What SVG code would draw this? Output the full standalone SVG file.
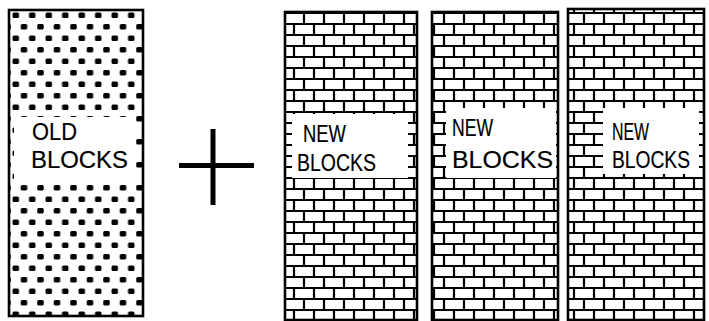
<svg xmlns="http://www.w3.org/2000/svg" width="709" height="321" viewBox="0 0 709 321">
<defs>
<pattern id="dots" patternUnits="userSpaceOnUse" width="16.5" height="23" x="10" y="10">
<rect width="16.5" height="23" fill="#fff"/>
<rect x="2.5" y="2.5" width="6.5" height="5.5" rx="1.5" fill="#000"/>
<rect x="10.75" y="14" width="6.5" height="5.5" rx="1.5" fill="#000"/>
<rect x="-5.75" y="14" width="6.5" height="5.5" rx="1.5" fill="#000"/>
</pattern>
<pattern id="bricks" patternUnits="userSpaceOnUse" width="20" height="22" x="0" y="12">
<rect width="20" height="22" fill="#fff"/>
<g stroke="#000" stroke-width="2.2" fill="none">
<path d="M0 1H20M0 12H20"/>
<path d="M4 1V12M14 12V22"/>
</g>
</pattern>
<style>
.frame{stroke:#000;stroke-width:2.6}
.lbl{fill:#fff}
.t{font-family:"Liberation Sans",Arial,sans-serif;font-size:24px;fill:#000;stroke:#000;stroke-width:0.2}
</style>
</defs>
<rect width="709" height="321" fill="#fff"/>

<g id="old-blocks">
<rect class="frame" x="9" y="10" width="134" height="306" fill="url(#dots)"/>
<rect class="lbl" x="14" y="117" width="122" height="66"/>
<text class="t" x="32" y="140" textLength="45" lengthAdjust="spacingAndGlyphs">OLD</text>
<text class="t" x="31" y="168" textLength="97" lengthAdjust="spacingAndGlyphs">BLOCKS</text>
</g>

<g id="plus">
<path d="M213 129V205M179 165.5H254" stroke="#000" stroke-width="5" fill="none"/>
</g>

<g id="new-blocks-1">
<rect class="frame" x="285" y="12" width="132" height="308" fill="url(#bricks)"/>
<rect class="lbl" x="292" y="114" width="116" height="64"/>
<text class="t" x="303" y="142" textLength="43" lengthAdjust="spacingAndGlyphs">NEW</text>
<text class="t" x="297" y="171" textLength="79" lengthAdjust="spacingAndGlyphs">BLOCKS</text>
</g>

<g id="new-blocks-2">
<rect class="frame" x="432" y="12" width="126" height="308" fill="url(#bricks)"/>
<rect class="lbl" x="446" y="108" width="110" height="70"/>
<text class="t" x="452" y="136" textLength="41" lengthAdjust="spacingAndGlyphs">NEW</text>
<text class="t" x="452" y="168" textLength="101" lengthAdjust="spacingAndGlyphs">BLOCKS</text>
</g>

<g id="new-blocks-3">
<rect class="frame" x="568" y="9" width="136" height="311" fill="url(#bricks)"/>
<rect class="lbl" x="603" y="108" width="96" height="66"/>
<text class="t" x="612" y="140" textLength="37" lengthAdjust="spacingAndGlyphs">NEW</text>
<text class="t" x="612" y="168" textLength="78" lengthAdjust="spacingAndGlyphs">BLOCKS</text>
</g>
</svg>
